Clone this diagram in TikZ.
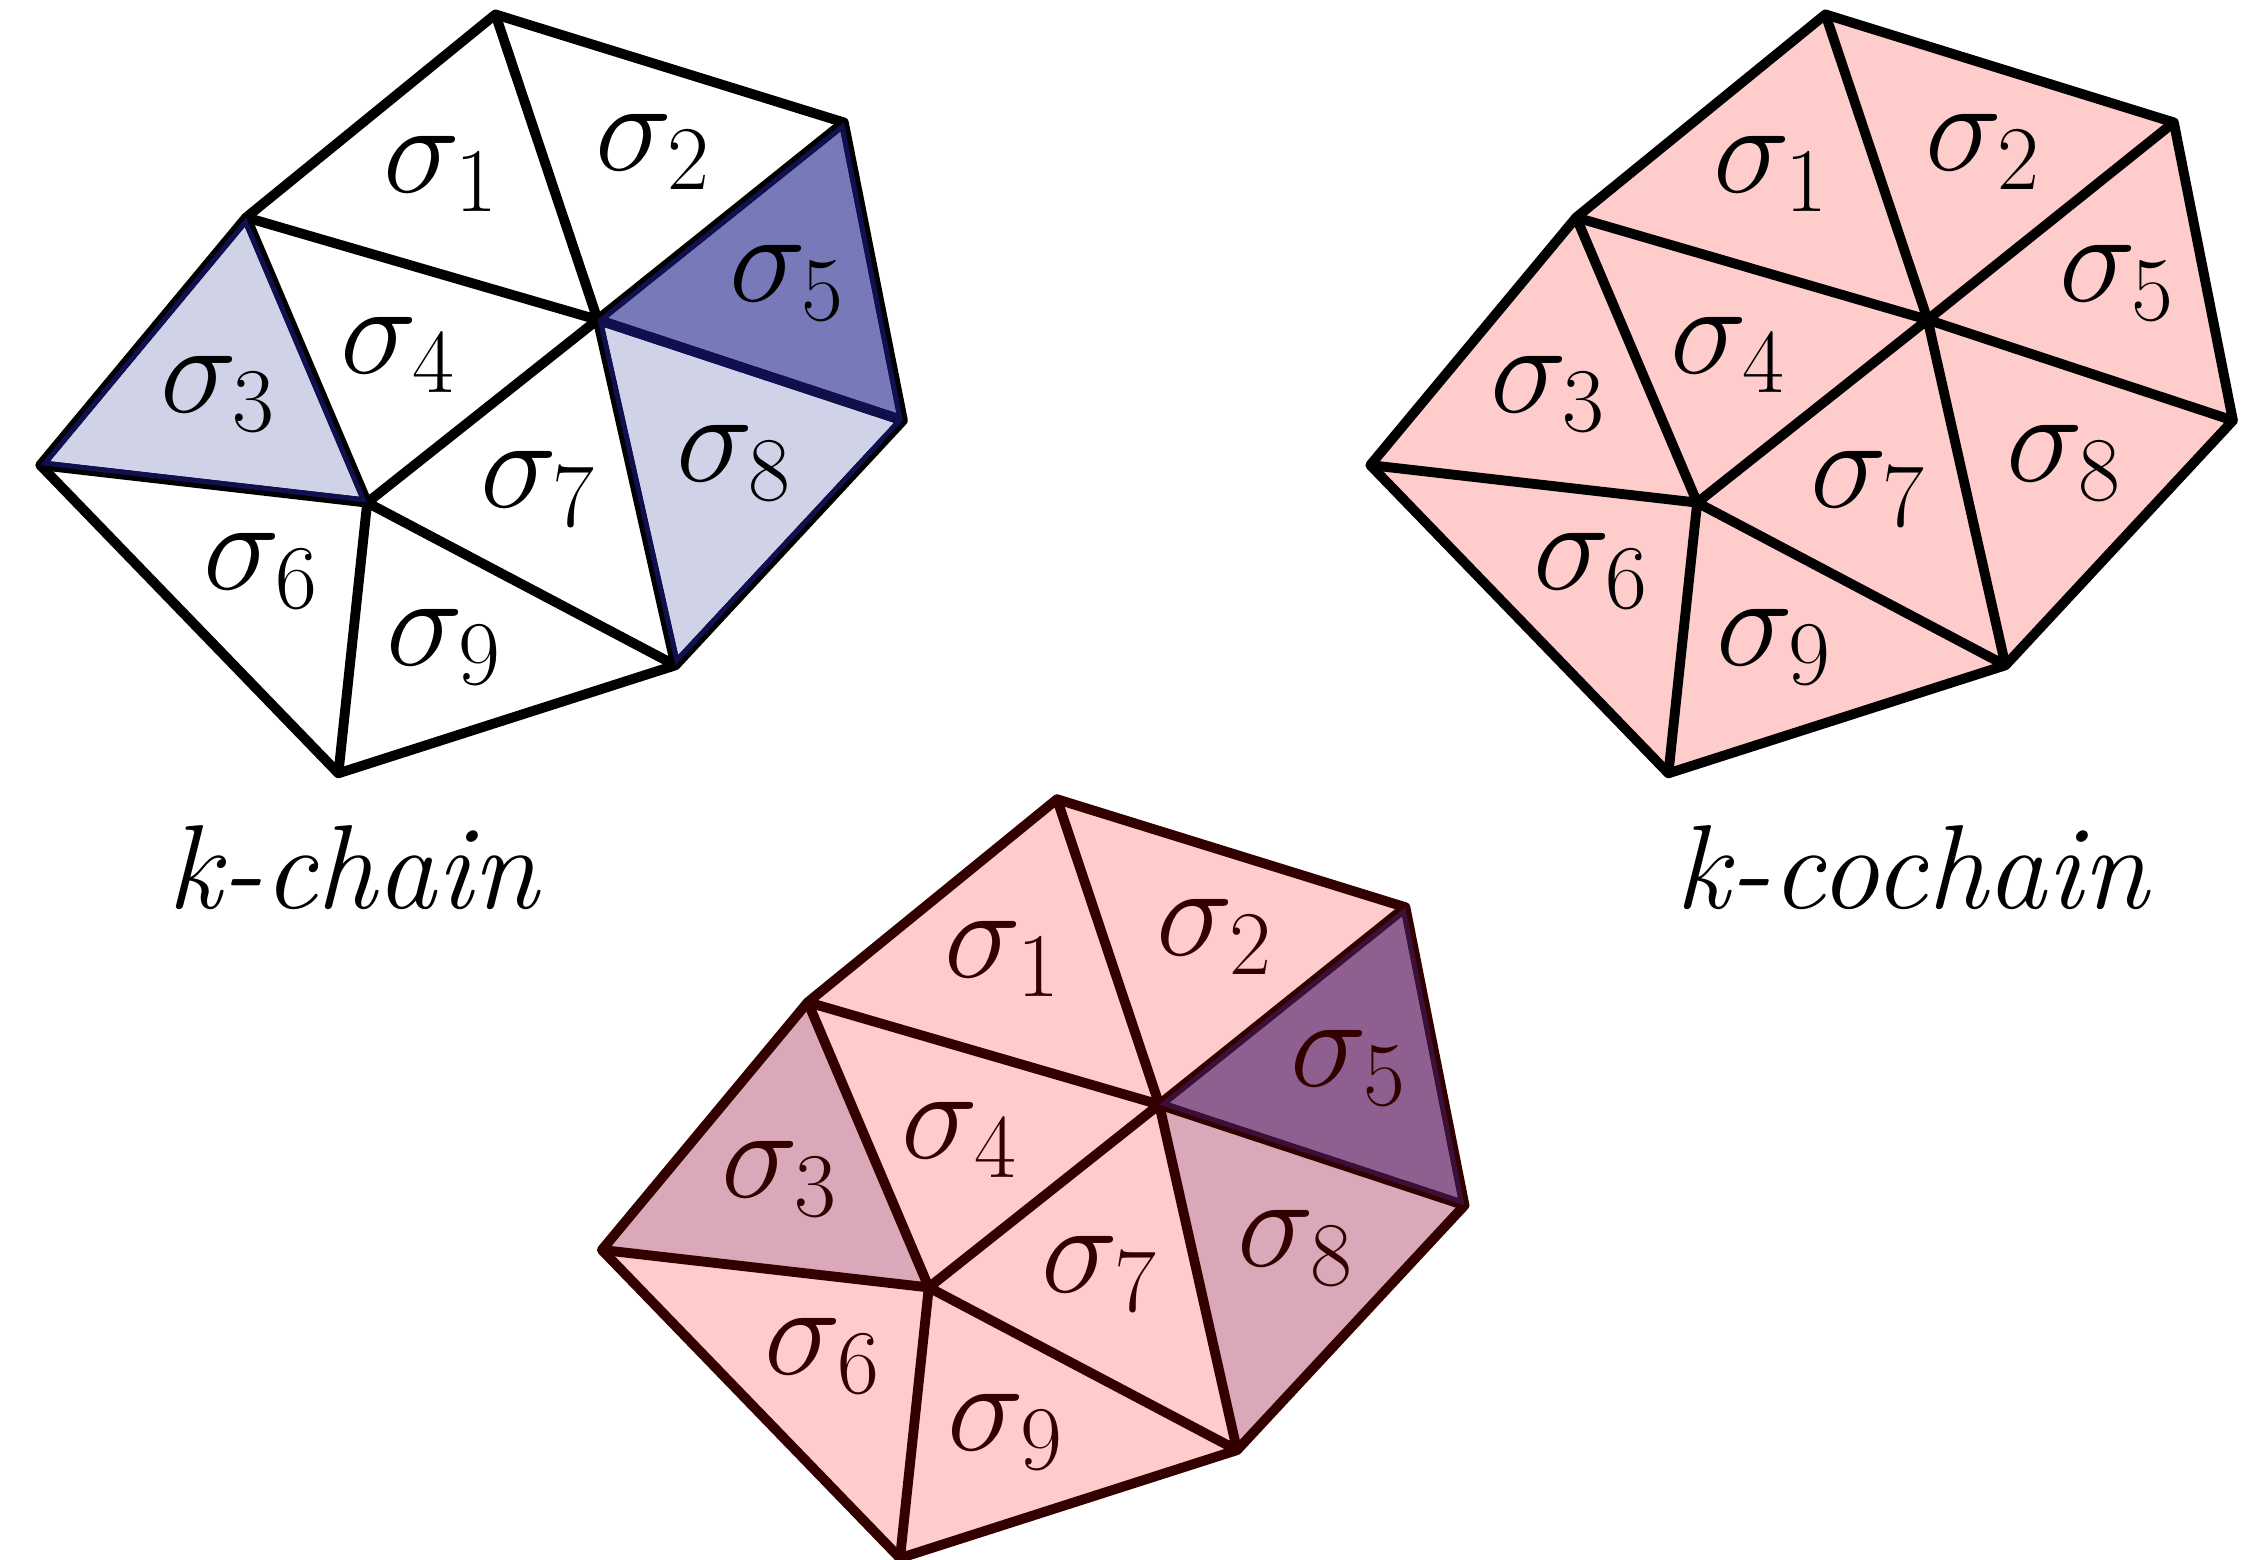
\RequirePackage{fix-cm}
\documentclass[tikz,border=0pt]{standalone}
\usetikzlibrary{calc}
\definecolor{lav}{HTML}{D0D2E8}
\definecolor{lavd}{HTML}{7779B8}
\definecolor{navy}{HTML}{101050}
\definecolor{pinkf}{HTML}{FFCCCC}
\definecolor{mauve}{HTML}{DAA8B8}
\definecolor{plum}{HTML}{8E5F8F}
\definecolor{brown}{HTML}{330000}
\definecolor{plumd}{HTML}{3A1038}
\tikzset{
  edge/.style={line width=2.8pt, line join=round},
  lbl/.style={inner sep=0pt, font=\fontsize{37}{44}\selectfont},
  captext/.style={inner sep=0pt, font=\fontsize{34}{40}\selectfont\itshape}
}
\newcommand\meshpts[1]{%
  \coordinate (#1A) at (495.4,14.4);
  \coordinate (#1B) at (843.8,122.4);
  \coordinate (#1C) at (902.9,420.5);
  \coordinate (#1D) at (675.4,665.3);
  \coordinate (#1E) at (338.4,773.3);
  \coordinate (#1F) at (40.3,465.1);
  \coordinate (#1G) at (246.2,217.4);
  \coordinate (#1O) at (597.6,319.7);
  \coordinate (#1P) at (367.2,502.6);
}
\newcommand\tripath[4]{(#1#2)--(#1#3)--(#1#4)--cycle}
\newcommand\meshfill[1]{%
  \fill[\csname c1\endcsname] \tripath{#1}{G}{A}{O};
  \fill[\csname c2\endcsname] \tripath{#1}{A}{B}{O};
  \fill[\csname c3\endcsname] \tripath{#1}{G}{P}{F};
  \fill[\csname c4\endcsname] \tripath{#1}{G}{O}{P};
  \fill[\csname c5\endcsname] \tripath{#1}{B}{C}{O};
  \fill[\csname c6\endcsname] \tripath{#1}{F}{P}{E};
  \fill[\csname c7\endcsname] \tripath{#1}{O}{P}{D};
  \fill[\csname c8\endcsname] \tripath{#1}{O}{C}{D};
  \fill[\csname c9\endcsname] \tripath{#1}{P}{D}{E};
}
\newcommand\meshedges[2]{%
  \draw[edge,#2] (#1A)--(#1B)--(#1C)--(#1D)--(#1E)--(#1F)--(#1G)--cycle;
  \draw[edge,#2] (#1G)--(#1O) (#1A)--(#1O) (#1B)--(#1O) (#1C)--(#1O) (#1D)--(#1O)
     (#1O)--(#1P) (#1G)--(#1P) (#1F)--(#1P) (#1E)--(#1P) (#1D)--(#1P);
}
\newcommand\innerstroke[5]{%
  \begin{scope}
    \clip \tripath{#1}{#2}{#3}{#4};
    \draw[edge,#5] \tripath{#1}{#2}{#3}{#4};
  \end{scope}
}
\newcommand\meshlabels[2]{%
  \node[lbl,text=#2] (#1s1) at (441,174) {$\sigma_1$};
  \node[lbl,text=#2] (#1s2) at (653,152) {$\sigma_2$};
  \node[lbl,text=#2] (#1s5) at (787,283) {$\sigma_5$};
  \node[lbl,text=#2] (#1s4) at (398,355) {$\sigma_4$};
  \node[lbl,text=#2] (#1s3) at (218,394) {$\sigma_3$};
  \node[lbl,text=#2] (#1s7) at (538,489) {$\sigma_7$};
  \node[lbl,text=#2] (#1s8) at (734,463) {$\sigma_8$};
  \node[lbl,text=#2] (#1s6) at (261,571) {$\sigma_6$};
  \node[lbl,text=#2] (#1s9) at (444,647) {$\sigma_9$};
}
\newcommand\setcols[9]{%
  \expandafter\def\csname c1\endcsname{#1}%
  \expandafter\def\csname c2\endcsname{#2}%
  \expandafter\def\csname c3\endcsname{#3}%
  \expandafter\def\csname c4\endcsname{#4}%
  \expandafter\def\csname c5\endcsname{#5}%
  \expandafter\def\csname c6\endcsname{#6}%
  \expandafter\def\csname c7\endcsname{#7}%
  \expandafter\def\csname c8\endcsname{#8}%
  \expandafter\def\csname c9\endcsname{#9}%
}
\begin{document}
\begin{tikzpicture}[x=0.01cm,y=-0.01cm]
\useasboundingbox (0,0) rectangle (2258,1559);
\fill[white] (0,0) rectangle (2258,1559);

% ---------- mesh 1 : k-chain ----------
\begin{scope}
  \meshpts{a}
  \setcols{white}{white}{lav}{white}{lavd}{white}{white}{lav}{white}
  \meshfill{a}
  \meshedges{a}{black}
  \innerstroke{a}{G}{P}{F}{navy}
  \innerstroke{a}{O}{C}{D}{navy}
  \innerstroke{a}{B}{C}{O}{navy}
  \meshlabels{a}{black}
\end{scope}

% ---------- mesh 2 : k-cochain ----------
\begin{scope}[shift={(1330,0)}]
  \meshpts{b}
  \setcols{pinkf}{pinkf}{pinkf}{pinkf}{pinkf}{pinkf}{pinkf}{pinkf}{pinkf}
  \meshfill{b}
  \meshedges{b}{black}
  \meshlabels{b}{black}
\end{scope}

% ---------- mesh 3 ----------
\begin{scope}[shift={(561.6,784.8)}]
  \meshpts{c}
  \setcols{pinkf}{pinkf}{mauve}{pinkf}{plum}{pinkf}{pinkf}{mauve}{pinkf}
  \meshfill{c}
  \meshedges{c}{brown}
  \innerstroke{c}{B}{C}{O}{plumd}
  \meshlabels{c}{brown}
\end{scope}

\node[captext] (kchain) at (352.8,868) {k-chain};
\node[captext] (kcochain) at (1912,868) {k-cochain};
\end{tikzpicture}
\end{document}
